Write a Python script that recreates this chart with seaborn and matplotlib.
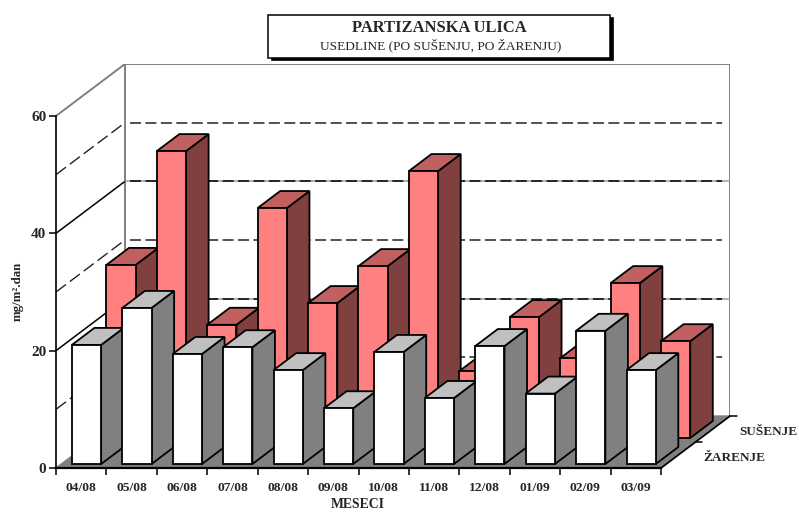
import matplotlib
matplotlib.use("Agg")
import matplotlib.pyplot as plt
from matplotlib.patches import Polygon, Rectangle
import numpy as np
import pandas as pd
import seaborn as sns

months = ["04/08", "05/08", "06/08", "07/08", "08/08", "09/08",
          "10/08", "11/08", "12/08", "01/09", "02/09", "03/09"]
susenje = [29.5, 48.9, 19.3, 39.2, 23.0, 29.3, 45.5, 11.4, 20.6, 13.6, 26.4, 16.5]
zarenje = [20.3, 26.6, 18.75, 19.9, 16.0, 9.5, 19.1, 11.25, 20.1, 12.0, 22.7, 16.0]
major_grid = [20, 40]
minor_grid = [10, 30, 50]
y_ticks = [0, 20, 40, 60]

# depth of the box in data units, x in categories and y in mg/m2.dan
DEPTH_X = 1.368
DEPTH_Y = 8.86
Y_MAX = 60
N = len(months)
DASH_END = N + DEPTH_X - 0.15

sns.set_style("white")
plt.rcParams["font.family"] = ["Liberation Serif", "DejaVu Serif"]

W, H = 799, 512
fig = plt.figure(figsize=(W / 100, H / 100), dpi=100)
ax = fig.add_axes([56 / W, 1 - 468 / H, (661 + 69 - 56) / W, (468 - 64) / H])


def project(x, y, d):
    return (x + d * DEPTH_X, y + d * DEPTH_Y)


def draw_row(values, d_front, d_back, front, side, top, z):
    df = pd.DataFrame({"pos": np.arange(N) + 0.5 + d_front * DEPTH_X, "value": values})
    sns.barplot(data=df, x="pos", y="value", native_scale=True, width=0.58,
                bottom=d_front * DEPTH_Y, color=front, saturation=1,
                edgecolor="black", linewidth=1.3, ax=ax)
    dd = d_back - d_front
    for i, bar in enumerate(ax.containers[-1]):
        x0 = bar.get_x()
        x1 = x0 + bar.get_width()
        y0 = bar.get_y()
        y1 = y0 + bar.get_height()
        bar.set_zorder(z + i + 0.5)
        ax.add_patch(Polygon([(x1, y0), project(x1, y0, dd), project(x1, y1, dd), (x1, y1)],
                             facecolor=side, edgecolor="black", linewidth=1.3, zorder=z + i))
        ax.add_patch(Polygon([(x0, y1), (x1, y1), project(x1, y1, dd), project(x0, y1, dd)],
                             facecolor=top, edgecolor="black", linewidth=1.3, zorder=z + i))


# floor and walls
ax.add_patch(Polygon([(0, 0), project(0, 0, 1), project(N, 0, 1), (N, 0)],
                     facecolor="#808080", edgecolor="#808080", linewidth=1, zorder=1))
ax.plot([DEPTH_X, DEPTH_X], [DEPTH_Y, Y_MAX + DEPTH_Y], color="#808080", lw=1.4, zorder=2)
ax.plot([N + DEPTH_X, N + DEPTH_X], [DEPTH_Y, Y_MAX + DEPTH_Y], color="#808080", lw=1.4, zorder=2)
ax.plot([0, DEPTH_X, N + DEPTH_X], [Y_MAX, Y_MAX + DEPTH_Y, Y_MAX + DEPTH_Y],
        color="#808080", lw=1.4, zorder=2)

for v in major_grid:
    ax.plot([0, DEPTH_X], [v, v + DEPTH_Y], color="black", lw=1.1, zorder=2)
    ax.plot([DEPTH_X, N + DEPTH_X], [v + DEPTH_Y, v + DEPTH_Y], color="#9a9a9a", lw=1.1, zorder=2)
    ax.plot([DEPTH_X + 0.1, DASH_END], [v + DEPTH_Y, v + DEPTH_Y], color="black", lw=1.1,
            dashes=(7.2, 2.9), zorder=2.1)
for v in minor_grid:
    ax.plot([0, DEPTH_X], [v, v + DEPTH_Y], color="#222222", lw=1, dashes=(9, 3.5), zorder=2)
    ax.plot([DEPTH_X + 0.1, DASH_END], [v + DEPTH_Y, v + DEPTH_Y], color="#222222", lw=1.1,
            dashes=(7.2, 2.9), zorder=2)

# back row first, white row goes over it
draw_row(susenje, 0.577, 0.904, "#FF8080", "#804040", "#C06060", 10)
draw_row(zarenje, 0.077, 0.404, "#FFFFFF", "#808080", "#C0C0C0", 30)

# right edge of the floor with the series ticks
ax.plot([N, N + DEPTH_X], [0, DEPTH_Y], color="black", lw=1.2, zorder=3, clip_on=False)
for d, name, off in [(0.5, "ŽARENJE", 8), (1.0, "SUŠENJE", 9)]:
    px, py = project(N, 0, d)
    ax.plot([px, px + 0.13], [py, py], color="black", lw=1.1, clip_on=False, zorder=3)
    ax.annotate(name, xy=(px, py), xytext=(off, -15.5), textcoords="offset pixels",
                fontsize=9.5, fontweight="bold", va="center", ha="left", annotation_clip=False)

ax.set_xlim(0, N + DEPTH_X)
ax.set_ylim(0, Y_MAX + DEPTH_Y)
ax.set_xlabel("")
ax.set_ylabel("")

for s in ["top", "right"]:
    ax.spines[s].set_visible(False)
ax.spines["left"].set_bounds(0, Y_MAX)
ax.spines["bottom"].set_bounds(0, N)
ax.spines["left"].set_color("black")
ax.spines["bottom"].set_color("black")
ax.spines["left"].set_linewidth(1.2)
ax.spines["bottom"].set_linewidth(1.6)
ax.patch.set_visible(False)

ax.set_yticks(y_ticks)
ax.set_yticklabels([str(t) for t in y_ticks], fontsize=11, fontweight="bold")
ax.set_xticks(np.arange(N + 1))
ax.set_xticklabels([])
ax.set_xticks(np.arange(N) + 0.5, minor=True)
ax.set_xticklabels(months, minor=True, fontsize=9.7, fontweight="bold")
ax.tick_params(axis="y", left=True, length=5, width=1.1, color="black", pad=2)
ax.tick_params(axis="x", which="major", bottom=True, length=5, width=1.1, color="black")
ax.tick_params(axis="x", which="minor", bottom=False, length=0, pad=10)

# title box with its shadow
fig.add_artist(Rectangle((271 / W, 1 - 60 / H), 342 / W, 43 / H, transform=fig.transFigure,
                         facecolor="black", edgecolor="black", lw=0.5, zorder=5))
fig.add_artist(Rectangle((268 / W, 1 - 58 / H), 342 / W, 43 / H, transform=fig.transFigure,
                         facecolor="white", edgecolor="black", lw=1.1, zorder=6))
fig.text(439.5 / W, 1 - 27.5 / H, "PARTIZANSKA ULICA", ha="center", va="center",
         fontsize=11.9, fontweight="bold", zorder=7)
fig.text(440.5 / W, 1 - 45.5 / H, "USEDLINE (PO SUŠENJU, PO ŽARENJU)", ha="center", va="center",
         fontsize=9.65, zorder=7)

fig.text(18 / W, 1 - 291 / H, "mg/m².dan", rotation=90, ha="center", va="center",
         fontsize=9.3, fontweight="bold")
fig.text(357.5 / W, 1 - 504 / H, "MESECI", ha="center", va="center", fontsize=9.9, fontweight="bold")

fig.savefig("out.png", dpi=100)
